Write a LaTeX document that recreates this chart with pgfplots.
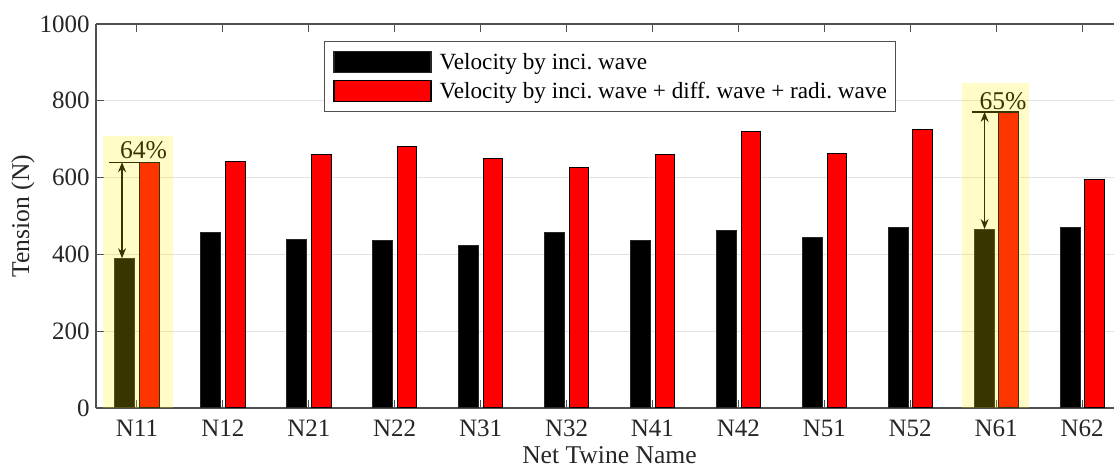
\documentclass[border=0pt]{standalone}
\usepackage{fontspec}
\setmainfont{Liberation Serif}
\usepackage{pgfplots}
\usepackage{pgfplotstable}
\pgfplotsset{compat=1.18}
\usetikzlibrary{arrows.meta}

\definecolor{txt}{RGB}{38,38,38}
\definecolor{axln}{RGB}{80,80,80}
\definecolor{gridc}{RGB}{226,226,226}

% tension per net twine: incident-wave velocity vs. full (inci.+diff.+radi.) velocity
\pgfplotstableread{
idx name inc total
0  N11 390 640
1  N12 456 643
2  N21 438 659
3  N22 435 680
4  N31 422 651
5  N32 456 625
6  N41 435 661
7  N42 461 721
8  N51 445 664
9  N52 471 724
10 N61 466 771
11 N62 469 596
}\tension

\newcommand{\tickfont}{\fontsize{12.5pt}{14pt}\selectfont}
\newcommand{\labfont}{\fontsize{12.8pt}{14pt}\selectfont}
\newcommand{\legfont}{\frenchspacing\fontsize{11.6pt}{13pt}\selectfont}

\begin{document}
\begin{tikzpicture}
\begin{axis}[
  name=ax,
  width=513.5pt, height=192pt, scale only axis,
  xmin=-0.477, xmax=11.477, ymin=0, ymax=1000,
  axis y line*=left,
  xtick={0,...,11},
  xticklabels from table={\tension}{name},
  ytick={0,200,...,1000},
  /pgf/number format/assume math mode=true,
  /pgf/number format/1000 sep={},
  ymajorgrids, grid style={gridc, line width=0.5pt},
  axis line style={axln, line width=0.6pt},
  tick style={axln, line width=0.5pt},
  major tick length=4pt,
  tick align=inside,
  ticklabel style={font=\tickfont, text=txt},
  xticklabel style={anchor=base, yshift=-14.5pt},
  yticklabel style={inner xsep=3pt},
  label style={font=\labfont, text=txt},
  xlabel={Net Twine Name},
  ylabel={Tension (N)},
  xlabel style={at={(axis description cs:0.5,0)}, anchor=base, inner sep=0pt, yshift=-27.5pt},
  ylabel style={at={(axis description cs:-0.0711,0.5)}, anchor=center},
  legend cell align=left,
  legend style={at={(axis description cs:0.222,0.955)}, anchor=north west,
    draw=axln, line width=0.5pt, font=\legfont, text=black,
    inner xsep=4.5pt, inner ysep=4.5pt, row sep=3.5pt, column sep=4pt,
    nodes={inner sep=0pt, text height=9pt, text depth=1.5pt}},
  swatch/.style={legend image code/.code={%
    \draw[##1, line width=0.6pt] (0pt,-5.25pt) rectangle (48.5pt,5.25pt);}},
]
\addplot[ybar, bar width=10pt, bar shift=-6pt, fill=black, draw=black!85, line width=0.5pt, swatch]
  table[x=idx, y=inc] {\tension};
\addlegendentry{Velocity by inci. wave}
\addplot[ybar, bar width=9.75pt, bar shift=6.25pt, fill=red, draw=black, line width=0.5pt, swatch]
  table[x=idx, y=total] {\tension};
\addlegendentry{Velocity by inci. wave + diff. wave + radi. wave}

% increase markers for N11 and N61
\draw[black, line width=0.6pt] (axis cs:-0.326,640) -- (axis cs:0.256,640);
\draw[black, line width=0.6pt, {Stealth[length=5pt,width=4pt]}-{Stealth[length=5pt,width=4pt]}]
  (axis cs:-0.174,640) -- (axis cs:-0.174,390);
\node[anchor=base, inner sep=0pt, font=\labfont, text=black]
  at (axis cs:0.076,650) {64\%};

\draw[black, line width=0.6pt] (axis cs:9.715,771) -- (axis cs:10.25,771);
\draw[black, line width=0.6pt, {Stealth[length=5pt,width=4pt]}-{Stealth[length=5pt,width=4pt]}]
  (axis cs:9.866,771) -- (axis cs:9.866,466);
\node[anchor=base, inner sep=0pt, font=\labfont, text=black]
  at (axis cs:10.08,777) {65\%};

% highlight bands
\fill[yellow, opacity=0.22] (axis cs:-0.395,0) rectangle (axis cs:0.42,708);
\fill[yellow, opacity=0.22] (axis cs:9.60,0) rectangle (axis cs:10.38,846);
\end{axis}
\pgfresetboundingbox
\path[use as bounding box] ([xshift=-48pt,yshift=-29pt]ax.south west) rectangle ++(557pt,233pt);
\end{tikzpicture}
\end{document}
